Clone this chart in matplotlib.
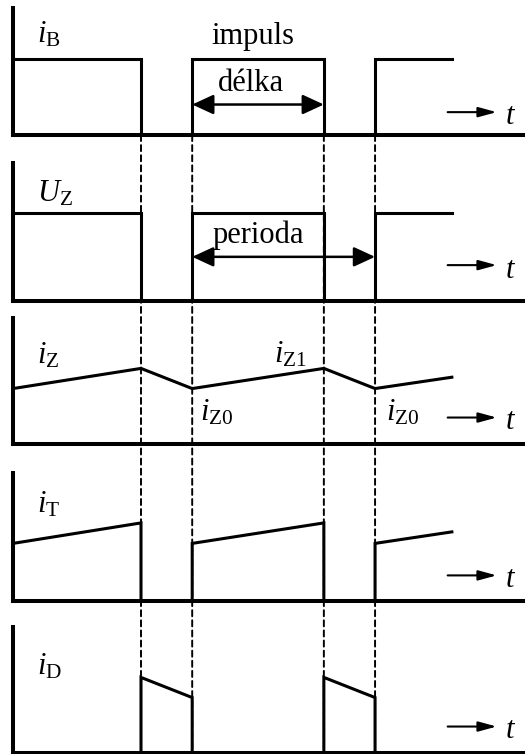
import matplotlib
matplotlib.use("Agg")
import matplotlib.pyplot as plt
from matplotlib.patches import ConnectionPatch

plt.rcParams["font.family"] = ["Liberation Serif", "DejaVu Serif"]
plt.rcParams["mathtext.fontset"] = "custom"
plt.rcParams["mathtext.rm"] = "Liberation Serif"
plt.rcParams["mathtext.it"] = "Liberation Serif:italic"

# ------------------------------------------------------------------
# Data (time in periods-ish units, levels as fraction of panel height)
# ------------------------------------------------------------------
switch_times = [0.70, 0.98, 1.70, 1.98]
t_end = 2.40

t_step = [0.0, 0.70, 0.70, 0.98, 0.98, 1.70, 1.70, 1.98, 1.98, 2.40]
i_b = [0.60, 0.60, 0.0, 0.0, 0.60, 0.60, 0.0, 0.0, 0.60, 0.60]
u_z = [0.64, 0.64, 0.0, 0.0, 0.64, 0.64, 0.0, 0.0, 0.64, 0.64]
i_t = [0.45, 0.61, 0.0, 0.0, 0.45, 0.61, 0.0, 0.0, 0.45, 0.54]
i_d = [0.0, 0.0, 0.60, 0.44, 0.0, 0.0, 0.60, 0.44, 0.0, 0.0]

t_ramp = [0.0, 0.70, 0.98, 1.70, 1.98, 2.40]
i_z = [0.44, 0.60, 0.44, 0.60, 0.44, 0.53]

labels = [r"$i_\mathrm{B}$", r"$U_\mathrm{Z}$", r"$i_\mathrm{Z}$",
          r"$i_\mathrm{T}$", r"$i_\mathrm{D}$"]
label_y = [0.73, 0.72, 0.64, 0.69, 0.62]
t_arrow_y = [0.18, 0.26, 0.21, 0.20, 0.21]

# panel boxes (pixel rows of top / baseline)
W, H = 525, 754
panel_px = [(8, 135), (163, 301), (318, 444), (473, 601), (627, 753)]

fig = plt.figure(figsize=(W / 100, H / 100), dpi=100)
axes = []
for top, base in panel_px:
    ax = fig.add_axes([13 / W, 1 - base / H, 1 - 13 / W, (base - top) / H])
    ax.set_xlim(0, 2.80)
    ax.set_ylim(0, 1)
    for side in ["top", "right"]:
        ax.spines[side].set_visible(False)
    for side in ["left", "bottom"]:
        ax.spines[side].set_linewidth(2.9)
        ax.spines[side].set_capstyle("projecting")
    ax.set_xticks([])
    ax.set_yticks([])
    ax.patch.set_alpha(0)
    axes.append(ax)

line_kw = dict(color="black", lw=2.2, solid_joinstyle="miter", zorder=3)
axes[0].plot(t_step, i_b, **line_kw)
axes[1].plot(t_step, u_z, **line_kw)
axes[2].plot(t_ramp, i_z, **line_kw)
axes[3].plot(t_step, i_t, **line_kw)
axes[4].plot(t_step, i_d, **line_kw)

fs = 22
for ax, lab, ly, ay in zip(axes, labels, label_y, t_arrow_y):
    ax.text(0.13, ly, lab, fontsize=fs, va="baseline", ha="left")
    ax.annotate("", xy=(2.645, ay), xytext=(2.377, ay),
                arrowprops=dict(arrowstyle="-|>,head_length=1.1,head_width=0.3",
                                mutation_scale=10, lw=1.5, color="black",
                                shrinkA=0, shrinkB=0))
    ax.text(2.69, ay - 0.09, r"$t$", fontsize=fs, va="baseline", ha="left")

# annotations
axes[0].text(1.31, 0.72, "impuls", fontsize=fs, ha="center", va="baseline")
axes[0].text(1.30, 0.35, "délka", fontsize=fs, ha="center", va="baseline")
axes[0].annotate("", xy=(switch_times[2], 0.24), xytext=(switch_times[1], 0.24),
                 arrowprops=dict(arrowstyle="<|-|>,head_length=1.3,head_width=0.6",
                                 mutation_scale=10, lw=1.8, color="black",
                                 shrinkA=0, shrinkB=0))
axes[1].text(1.34, 0.42, "perioda", fontsize=fs, ha="center", va="baseline")
axes[1].annotate("", xy=(switch_times[3], 0.32), xytext=(switch_times[1], 0.32),
                 arrowprops=dict(arrowstyle="<|-|>,head_length=1.3,head_width=0.6",
                                 mutation_scale=10, lw=1.8, color="black",
                                 shrinkA=0, shrinkB=0))
axes[2].text(1.43, 0.65, r"$i_\mathrm{Z1}$", fontsize=fs, ha="left", va="baseline")
axes[2].text(1.02, 0.19, r"$i_\mathrm{Z0}$", fontsize=fs, ha="left", va="baseline")
axes[2].text(2.04, 0.19, r"$i_\mathrm{Z0}$", fontsize=fs, ha="left", va="baseline")

# dashed guides across all panels
for ts in switch_times:
    con = ConnectionPatch(xyA=(ts, 0), coordsA=axes[0].transData,
                          xyB=(ts, 0), coordsB=axes[4].transData,
                          color="black", lw=1.4, linestyle=(0, (3.1, 2.1)),
                          zorder=1)
    fig.add_artist(con)

fig.savefig("out.png", dpi=100)
